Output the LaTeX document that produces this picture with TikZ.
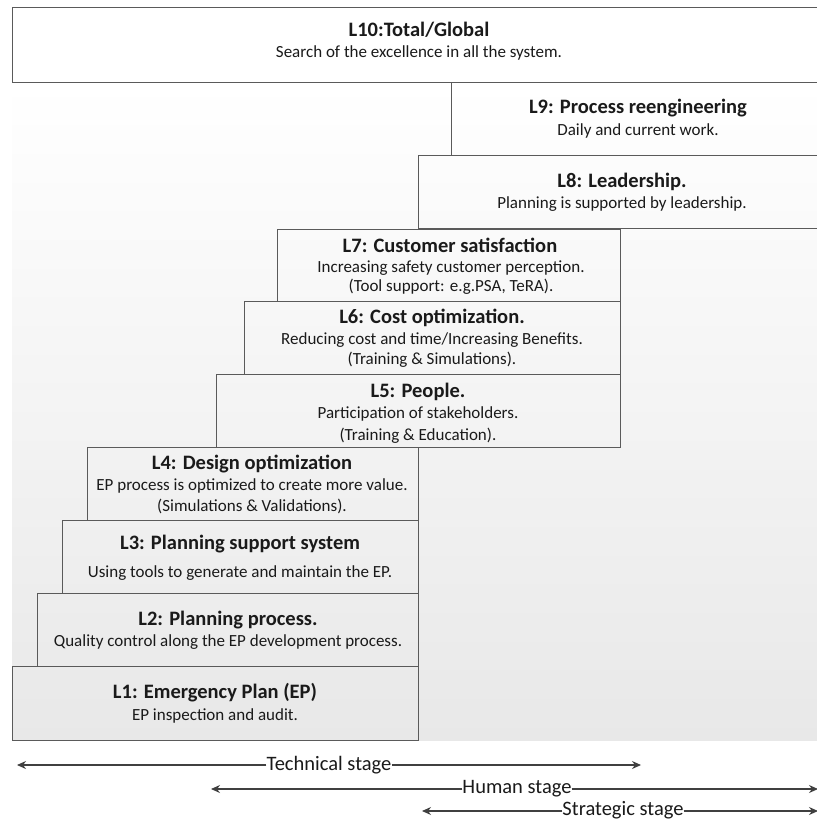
\documentclass[tikz,border=0pt]{standalone}
\usepackage{fontspec}
\setmainfont{Carlito}
\usetikzlibrary{arrows.meta}
\definecolor{edge}{HTML}{5A5A5A}
\definecolor{ink}{HTML}{1A1A1A}
\definecolor{arr}{HTML}{404040}
\tikzset{
  lvbox/.style={draw=edge, line width=0.9pt, fill=none, anchor=north west, inner sep=0pt},
  ttl/.style={font=\fontsize{20.5}{22}\selectfont\bfseries, text=ink, inner sep=0pt},
  sub/.style={font=\fontsize{17}{20}\selectfont, text=ink, inner sep=0pt},
  stage/.style={font=\fontsize{20.5}{22}\selectfont, text=ink, fill=white, inner xsep=0pt, inner ysep=1pt},
  stagearrow/.style={draw=arr, line width=1.1pt, -{Stealth[length=9pt,width=8pt]}}
}
\begin{document}
\begin{tikzpicture}[x=1pt,y=-1pt]
\useasboundingbox (0,0) rectangle (816,821);
\fill[white] (0,0) rectangle (816,821);
% background gradient area
\shade[top color=white, bottom color=black!9] (12,82) rectangle (820,740);
% boxes
\draw[edge, line width=0.9pt, fill=white] (12,7) rectangle (822,82);
\node[lvbox, minimum width=371pt, minimum height=73pt] (b9) at (451,82) {};
\node[lvbox, minimum width=404pt, minimum height=73pt] (b8) at (418,155) {};
\node[lvbox, minimum width=343pt, minimum height=72pt] (b7) at (277,229) {};
\node[lvbox, minimum width=376pt, minimum height=73pt] (b6) at (244,301) {};
\node[lvbox, minimum width=404pt, minimum height=73pt] (b5) at (216,374) {};
\node[lvbox, minimum width=331pt, minimum height=73pt] (b4) at (87,447) {};
\node[lvbox, minimum width=356pt, minimum height=73pt] (b3) at (62,520) {};
\node[lvbox, minimum width=381pt, minimum height=73pt] (b2) at (37,593) {};
\node[lvbox, minimum width=406pt, minimum height=74pt] (b1) at (12,666) {};
% texts
\node[ttl] (t10) at (419,30) {L10:Total/Global};
\node[sub] (s10) at (419,53) {Search of the excellence in all the system.};
\node[ttl] (t9) at (638,108) {L9: Process reengineering};
\node[sub] (s9) at (638,131) {Daily and current work.};
\node[ttl] (t8) at (622,182) {L8: Leadership.};
\node[sub] (s8) at (622,204) {Planning is supported by leadership.};
\node[ttl] (t7) at (450,245) {L7: Customer satisfaction};
\node[sub] (s7) at (451,268) {Increasing safety customer perception.};
\node[sub] (s7b) at (451,287) {(Tool support: e.g.PSA, TeRA).};
\node[ttl] (t6) at (432,318) {L6: Cost optimization.};
\node[sub] (s6) at (432,340) {Reducing cost and time/Increasing Benefits.};
\node[sub] (s6b) at (432,360) {(Training \& Simulations).};
\node[ttl] (t5) at (418,392) {L5: People.};
\node[sub] (s5) at (418,414) {Participation of stakeholders.};
\node[sub] (s5b) at (418,436) {(Training \& Education).};
\node[ttl] (t4) at (252,464) {L4: Design optimization};
\node[sub] (s4) at (252,486) {EP process is optimized to create more value.};
\node[sub] (s4b) at (252,506) {(Simulations \& Validations).};
\node[ttl] (t3) at (240,544) {L3: Planning support system};
\node[sub] (s3) at (240,573) {Using tools to generate and maintain the EP.};
\node[ttl] (t2) at (228,620) {L2: Planning process.};
\node[sub] (s2) at (228,642) {Quality control along the EP development process.};
\node[ttl] (t1) at (215,693) {L1: Emergency Plan (EP)};
\node[sub] (s1) at (215,716) {EP inspection and audit.};
% stages
\node[stage] (tech) at (329,765) {Technical stage};
\coordinate (techL) at (17,765);
\coordinate (techR) at (641,765);
\draw[stagearrow] (tech.west) -- (techL);
\draw[stagearrow] (tech.east) -- (techR);
\node[stage] (hum) at (517,789) {Human stage};
\coordinate (humL) at (211,789);
\coordinate (humR) at (818,789);
\draw[stagearrow] (hum.west) -- (humL);
\draw[stagearrow] (hum.east) -- (humR);
\node[stage] (strat) at (623,810) {Strategic stage};
\coordinate (stratL) at (422,811);
\coordinate (stratR) at (818,811);
\draw[stagearrow] (strat.west |- stratL) -- (stratL);
\draw[stagearrow] (strat.east |- stratR) -- (stratR);
\end{tikzpicture}
\end{document}
